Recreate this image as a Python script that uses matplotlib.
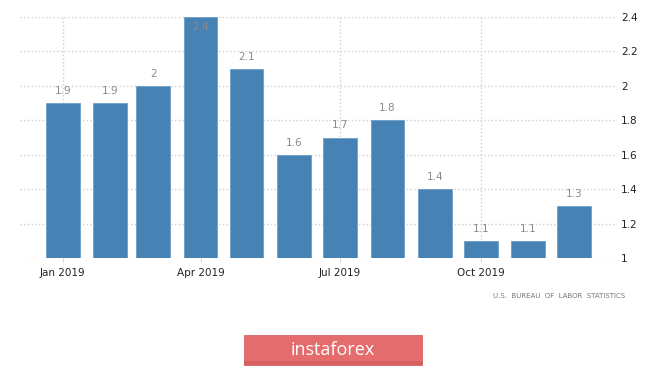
import datetime
import matplotlib
matplotlib.use('Agg')
import matplotlib.pyplot as plt
import matplotlib.dates as mdates
from matplotlib.patches import FancyBboxPatch

months = ['2019-01', '2019-02', '2019-03', '2019-04', '2019-05', '2019-06',
          '2019-07', '2019-08', '2019-09', '2019-10', '2019-11', '2019-12']
values = [1.9, 1.9, 2.0, 2.4, 2.1, 1.6, 1.7, 1.8, 1.4, 1.1, 1.1, 1.3]
labels = ['1.9', '1.9', '2', '2.4', '2.1', '1.6', '1.7', '1.8', '1.4', '1.1', '1.1', '1.3']
yticks = [1, 1.2, 1.4, 1.6, 1.8, 2, 2.2, 2.4]
ytick_labels = ['1', '1.2', '1.4', '1.6', '1.8', '2', '2.2', '2.4']
xticks = ['2019-01', '2019-04', '2019-07', '2019-10']
xtick_labels = ['Jan 2019', 'Apr 2019', 'Jul 2019', 'Oct 2019']

dates = [datetime.datetime.strptime(m, '%Y-%m') for m in months]
xt = [datetime.datetime.strptime(m, '%Y-%m') for m in xticks]

W, H = 665, 366
fig = plt.figure(figsize=(W / 100, H / 100), dpi=100)
ax = fig.add_axes([20 / W, (H - 258) / H, (617 - 20) / W, (258 - 17) / H])

ax.bar(dates, [v - 1 for v in values], bottom=1, width=22, color='#4682b4',
       edgecolor='#6f9fc8', linewidth=0.6, zorder=3)

ymax = 2.4
for d, v, t in zip(dates, values, labels):
    y = v + 0.07
    if y > ymax - 0.02:
        y = ymax - 0.06
    ax.text(d, y, t, ha='center', va='center', fontsize=7.5, color='#8a8a8a', zorder=4)

ax.set_ylim(1, ymax)
ax.set_xlim(datetime.datetime(2018, 12, 4), datetime.datetime(2019, 12, 29))
ax.set_yticks(yticks)
ax.set_yticklabels(ytick_labels)
ax.set_xticks(xt)
ax.set_xticklabels(xtick_labels)
ax.yaxis.tick_right()
ax.tick_params(axis='y', length=0, pad=3, labelsize=7.5, labelcolor='#222222')
ax.tick_params(axis='x', length=3, width=0.6, color='#cccccc', pad=4,
               labelsize=7.5, labelcolor='#222222')
for s in ax.spines.values():
    s.set_visible(False)
ax.grid(True, color='#cfcfcf', linestyle=':', linewidth=1.0, zorder=0)
ax.set_axisbelow(True)

fig.text(625 / W, 1 - 296 / H, 'U.S.  BUREAU  OF  LABOR  STATISTICS', ha='right', va='center',
         fontsize=5, color='#777777')

btn = FancyBboxPatch((244 / W, 1 - 365 / H), (422 - 244) / W, 30 / H,
                     boxstyle='square,pad=0', transform=fig.transFigure,
                     facecolor='#e46c6c', edgecolor='#d86262', linewidth=0.6)
fig.patches.append(btn)
strip = FancyBboxPatch((244 / W, 1 - 365 / H), (422 - 244) / W, 4 / H,
                       boxstyle='square,pad=0', transform=fig.transFigure,
                       facecolor='#d46060', edgecolor='none')
fig.patches.append(strip)
fig.text(333 / W, 1 - 350 / H, 'instaforex', ha='center', va='center',
         fontsize=13, color='white', family='Open Sans')

fig.savefig('out.png', dpi=100)
